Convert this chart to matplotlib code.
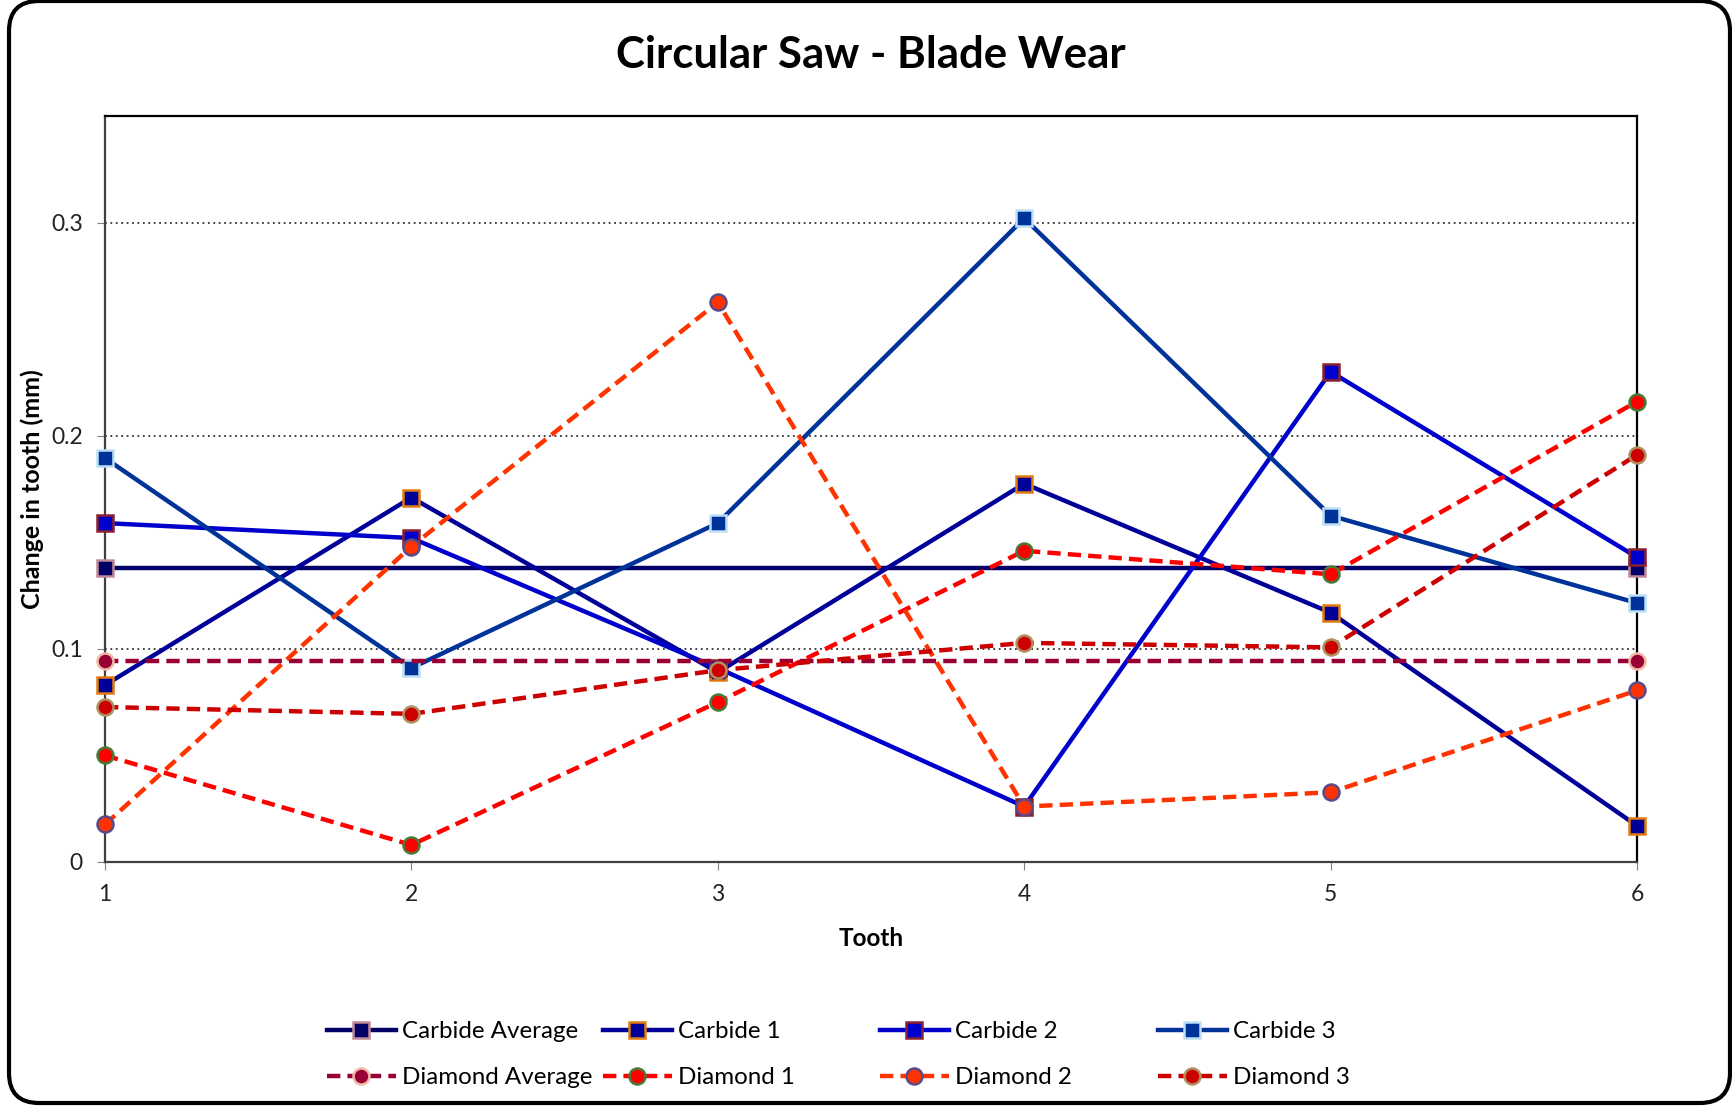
import matplotlib.pyplot as plt
from matplotlib.patches import FancyBboxPatch

plt.rcParams['font.family'] = ['Lato', 'DejaVu Sans']

# Data
teeth = [1, 2, 3, 4, 5, 6]
carbide_1 = [0.083, 0.171, 0.089, 0.1775, 0.117, 0.017]
carbide_2 = [0.159, 0.152, 0.091, 0.026, 0.230, 0.143]
carbide_3 = [0.1895, 0.091, 0.159, 0.302, 0.1625, 0.1215]
carbide_avg = [0.138] * 6
diamond_1 = [0.050, 0.008, 0.075, 0.146, 0.135, 0.216]
diamond_2 = [0.0176, 0.148, 0.2626, 0.026, 0.0327, 0.0805]
diamond_3 = [0.0727, 0.0695, 0.090, 0.1028, 0.1007, 0.191]
diamond_avg = [0.0945] * 6

yticks = [0, 0.1, 0.2, 0.3]
ytick_labels = ["0", "0.1", "0.2", "0.3"]

# label, values, line colour, marker, marker edge, linestyle
series = [
    ("Carbide Average", carbide_avg, "#000066", "s", "#C08A95", "-"),
    ("Carbide 1", carbide_1, "#000099", "s", "#E07B10", "-"),
    ("Carbide 2", carbide_2, "#0000CC", "s", "#8B2030", "-"),
    ("Carbide 3", carbide_3, "#003399", "s", "#BDE0F5", "-"),
    ("Diamond Average", diamond_avg, "#990033", "o", "#F2B8A8", "--"),
    ("Diamond 1", diamond_1, "#FF0000", "o", "#4A7A3A", "--"),
    ("Diamond 2", diamond_2, "#FF3300", "o", "#5A4A8A", "--"),
    ("Diamond 3", diamond_3, "#CC0000", "o", "#B09060", "--"),
]

W, H = 1732, 1109
fig = plt.figure(figsize=(W / 100, H / 100), dpi=100)
ax = fig.add_axes([105 / W, 1 - 862 / H, (1637 - 105) / W, (862 - 116) / H])

handles = []
for label, vals, col, mk, edge, ls in series:
    # the average lines only carry markers at both ends
    every = [0, len(vals) - 1] if "Average" in label else None
    ln, = ax.plot(teeth, vals, color=col, linestyle=ls, linewidth=3.2,
                  dashes=(3, 1.6) if ls == "--" else (None, None),
                  marker=mk, markersize=11 if mk == "s" else 11.5, markevery=every,
                  markerfacecolor=col, markeredgecolor=edge, markeredgewidth=1.8,
                  label=label, clip_on=False, zorder=3)
    handles.append(ln)

ax.set_xlim(1, 6)
ax.set_ylim(0, 0.35)
ax.set_xticks(teeth)
ax.set_yticks(yticks)
ax.set_yticklabels(ytick_labels)
ax.tick_params(axis="both", direction="out", length=6, color="#808080",
               labelsize=16.5, labelcolor="#222222", pad=10)
ax.yaxis.grid(True, linestyle=(0, (1, 2)), color="#333333", linewidth=1.3)
ax.set_axisbelow(True)
for side in ["left", "bottom"]:
    ax.spines[side].set_color("#404040")
    ax.spines[side].set_linewidth(1.6)
for side in ["top", "right"]:
    ax.spines[side].set_color("black")
    ax.spines[side].set_linewidth(1.6)

ax.set_xlabel("Tooth", fontsize=17.5, fontweight="bold", labelpad=16)
ax.set_ylabel("Change in tooth (mm)", fontsize=18, fontweight="bold", labelpad=5)
fig.text(871 / W, 1 - 55 / H, "Circular Saw - Blade Wear", ha="center", va="center",
         fontsize=31.5, fontweight="bold")

# legend: four evenly spaced columns, two rows each
col_x = [327, 603, 880, 1158]
for i, x in enumerate(col_x):
    fig.legend(handles=[handles[i], handles[i + 4]], loc="upper left",
               bbox_to_anchor=(x / W, 1 - 1021 / H), frameon=False, fontsize=17.4,
               handlelength=2.85, handletextpad=0.25, labelspacing=1.05,
               borderaxespad=0, borderpad=0, markerscale=1.0)

border = FancyBboxPatch((9, 6), W - 9 - 2, H - 6 - 1, boxstyle="round,pad=0,rounding_size=30",
                        transform=None, facecolor="none", edgecolor="black", linewidth=3)
fig.patches.append(border)

fig.savefig("out.png", dpi=100, facecolor="white")
